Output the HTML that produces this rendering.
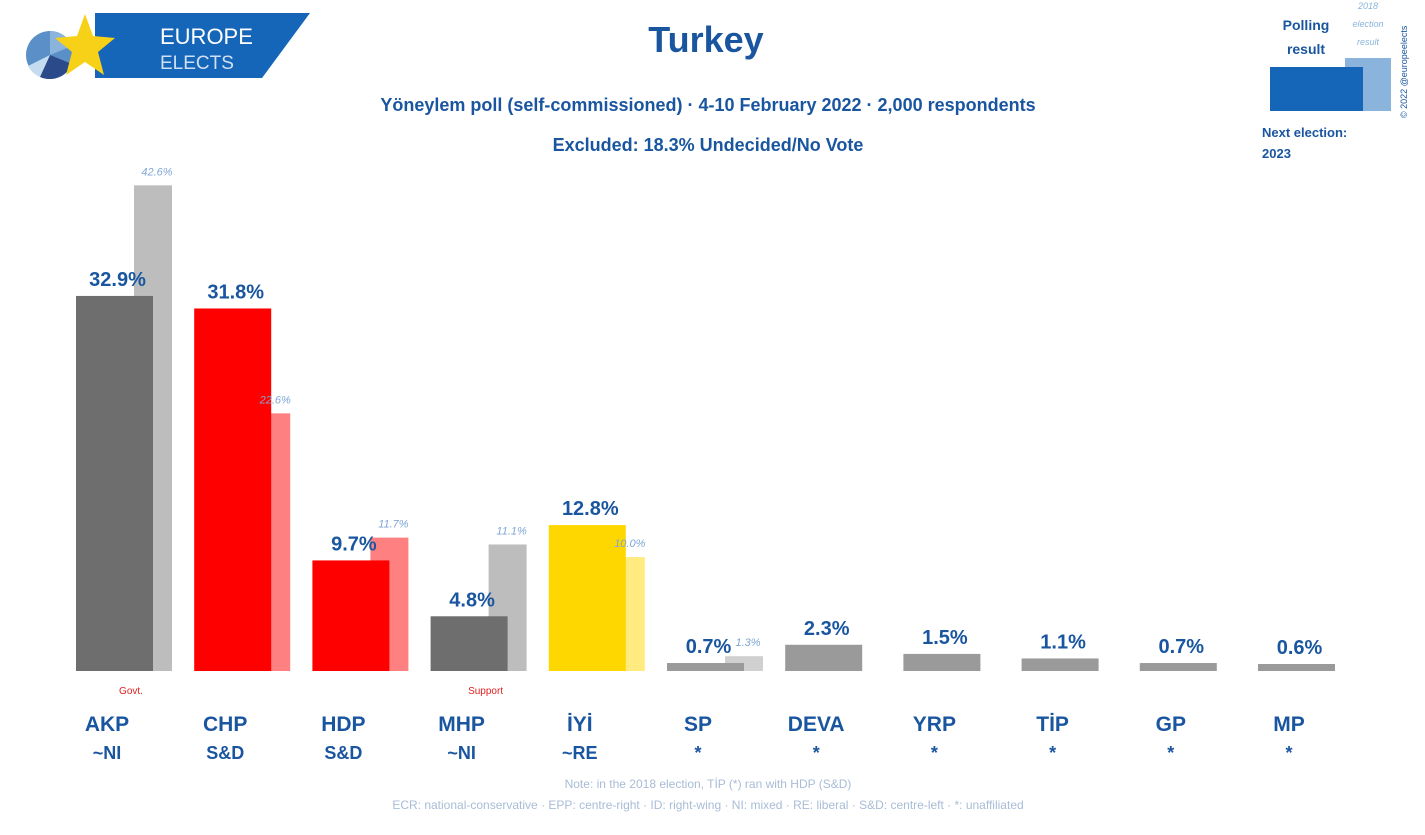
<!DOCTYPE html>
<html><head><meta charset="utf-8">
<style>
body{margin:0;background:#fff;width:1425px;height:835px;overflow:hidden;font-family:"Liberation Sans","DejaVu Sans",sans-serif;}
svg{display:block}
</style></head>
<body>
<svg id="chart" width="1425" height="835">
  <g>
    <polygon points="95,13 310,13 262,78 95,78" fill="#1565b8"/>
    <circle cx="50" cy="55" r="24" fill="#5a8fc8"/>
    <path d="M50,55 L50,31 A24,24 0 0,1 72,46 Z" fill="#8ab4dc"/>
    <path d="M50,55 L72,64 A24,24 0 0,1 40,77 Z" fill="#2a4a8a"/>
    <path d="M50,55 L40,77 A24,24 0 0,1 28,66 Z" fill="#c5dbef"/>
    <polygon points="85,14 93,36 115,38 98,52 104,75 85,62 66,75 72,52 55,38 77,36" fill="#f7d117"/>
    <text x="160" y="44" fill="#fff" font-size="22">EUROPE</text>
    <text x="160" y="69" fill="#cfe0f3" font-size="19">ELECTS</text>
  </g>
  <text x="706" y="52" text-anchor="middle" fill="#1a56a0" font-size="36" font-weight="bold">Turkey</text>
  <text x="708" y="111" text-anchor="middle" fill="#1a56a0" font-size="18" font-weight="bold">Yöneylem poll (self-commissioned) · 4-10 February 2022 · 2,000 respondents</text>
  <text x="708" y="151" text-anchor="middle" fill="#1a56a0" font-size="18" font-weight="bold">Excluded: 18.3% Undecided/No Vote</text>
  <g>
    <rect x="1345" y="58" width="46" height="53" fill="#8ab4dc"/>
    <rect x="1270" y="67" width="93" height="44" fill="#1565b8"/>
    <text x="1306" y="30" text-anchor="middle" fill="#1a56a0" font-size="14" font-weight="bold">Polling</text>
    <text x="1306" y="54" text-anchor="middle" fill="#1a56a0" font-size="14" font-weight="bold">result</text>
    <text x="1368" y="9" text-anchor="middle" fill="#8ab4dc" font-size="9" font-style="italic">2018</text>
    <text x="1368" y="27" text-anchor="middle" fill="#8ab4dc" font-size="9" font-style="italic">election</text>
    <text x="1368" y="45" text-anchor="middle" fill="#8ab4dc" font-size="9" font-style="italic">result</text>
    <text x="1262" y="137" fill="#1a56a0" font-size="13" font-weight="bold">Next election:</text>
    <text x="1262" y="158" fill="#1a56a0" font-size="13" font-weight="bold">2023</text>
    <text transform="translate(1407,118) rotate(-90)" fill="#1a56a0" font-size="9">© 2022 @europeelects</text>
  </g>
  <g id="bars"></g>
  <text x="708" y="788" text-anchor="middle" fill="#a8bcd6" font-size="12">Note: in the 2018 election, TİP (*) ran with HDP (S&amp;D)</text>
  <text x="708" y="809" text-anchor="middle" fill="#a8bcd6" font-size="12">ECR: national-conservative · EPP: centre-right · ID: right-wing · NI: mixed · RE: liberal · S&amp;D: centre-left · *: unaffiliated</text>
</svg>
<script>
const parties = ["AKP","CHP","HDP","MHP","İYİ","SP","DEVA","YRP","TİP","GP","MP"];
const groups = ["~NI","S&D","S&D","~NI","~RE","*","*","*","*","*","*"];
const poll = [32.9,31.8,9.7,4.8,12.8,0.7,2.3,1.5,1.1,0.7,0.6];
const election = [42.6,22.6,11.7,11.1,10.0,1.3,null,null,null,null,null];
const mainColors = ["#6e6e6e","#ff0000","#ff0000","#6e6e6e","#ffd700","#9a9a9a","#9a9a9a","#9a9a9a","#9a9a9a","#9a9a9a","#9a9a9a"];
const prevColors = ["#bdbdbd","#ff8080","#ff8080","#bdbdbd","#ffeb80","#d0d0d0"];
const tags = {0:"Govt.",3:"Support"};

const base = 671, scale = 11.4, x0 = 76, pitch = 118.2, bw = 77, sw = 38;
const y = v => base - v*scale;
const xm = i => x0 + i*pitch;
const g = document.getElementById('bars');
const NS = "http://www.w3.org/2000/svg";
function mk(tag, attrs, txt){const e=document.createElementNS(NS,tag);for(const k in attrs)e.setAttribute(k,attrs[k]);if(txt!==undefined)e.textContent=txt;g.appendChild(e);return e;}
parties.forEach((p,i)=>{
  const x = xm(i);
  if(election[i]!=null){
    const r = mk('rect',{x:x+bw-19,y:y(election[i]),width:sw,height:election[i]*scale,fill:prevColors[i]});
    
    
  }
});
parties.forEach((p,i)=>{
  const x = xm(i);
  const h = Math.max(poll[i]*scale, 7);
  const b = mk('rect',{x:x,y:base-h,width:bw,height:h,fill:mainColors[i]});
  
  
});
parties.forEach((p,i)=>{
  const x = xm(i);
  if(election[i]!=null){
    const t = mk('text',{x:x+bw+4,y:y(election[i])-10,'text-anchor':'middle',fill:'#7fa6d6','font-size':11,'font-style':'italic'},election[i].toFixed(1)+'%');
    
    
  }
  const h = Math.max(poll[i]*scale, 7);
  const v = mk('text',{x:x+bw/2+3,y:base-h-10,'text-anchor':'middle',fill:'#1a56a0','font-size':20,'font-weight':'bold'},poll[i].toFixed(1)+'%');
  
  
  const n = mk('text',{x:x+31,y:731,'text-anchor':'middle',fill:'#1a56a0','font-size':21,'font-weight':'bold'},p);
  
  
  const gr = mk('text',{x:x+31,y:759,'text-anchor':'middle',fill:'#1a56a0','font-size':18,'font-weight':'bold'},groups[i]);
  
  
  if(tags[i]){
    const tg = mk('text',{x:x+55,y:694,'text-anchor':'middle',fill:'#e02020','font-size':10},tags[i]);
    
    
  }
});
</script>
</body></html>
